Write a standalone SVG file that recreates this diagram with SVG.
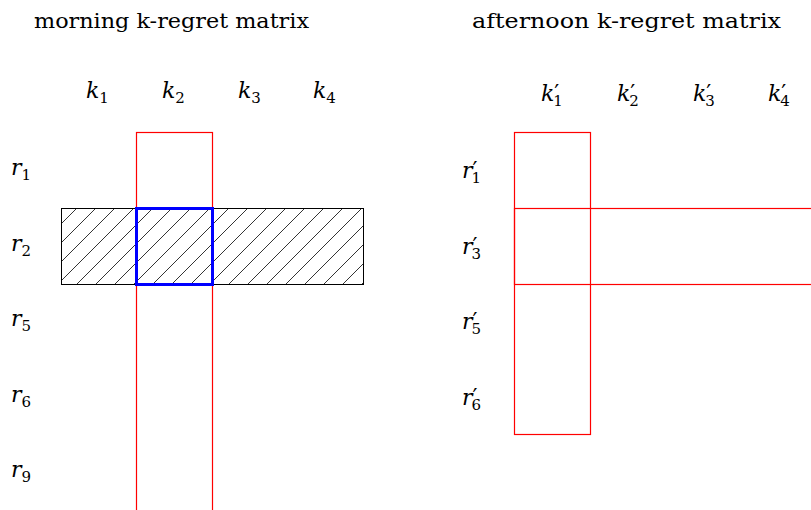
<svg xmlns="http://www.w3.org/2000/svg" width="811" height="510" viewBox="0 0 811 510">
<style>
.title{font-family:'DejaVu Serif',serif;font-size:21px;fill:#000}
.m{font-family:'DejaVu Serif',serif;font-style:italic;font-size:22px;fill:#000}
.s{font-style:normal;font-size:15px}
.p{font-style:normal;font-size:22px}
.red{fill:none;stroke:#ff0000;stroke-width:1.2}
.blue{fill:none;stroke:#0000ff;stroke-width:3}
</style>
<defs>
<pattern id="hatch" patternUnits="userSpaceOnUse" x="0" y="0" width="19" height="19">
<path d="M-1,1 L1,-1 M0,19 L19,0 M18,20 L20,18" stroke="#000" stroke-width="0.8"/>
</pattern>
</defs>
<g id="titles">
<text class="title" x="34" y="28" textLength="275" lengthAdjust="spacingAndGlyphs">morning k-regret matrix</text>
<text class="title" x="472" y="28" textLength="309" lengthAdjust="spacingAndGlyphs">afternoon k-regret matrix</text>
</g>
<g id="morning-labels">
<text class="m" x="86" y="98">k<tspan class="s" dy="5">1</tspan></text>
<text class="m" x="162" y="98">k<tspan class="s" dy="5">2</tspan></text>
<text class="m" x="238" y="98">k<tspan class="s" dy="5">3</tspan></text>
<text class="m" x="313" y="98">k<tspan class="s" dy="5">4</tspan></text>
<text class="m" x="11" y="175">r<tspan class="s" dy="5">1</tspan></text>
<text class="m" x="11" y="251">r<tspan class="s" dy="5">2</tspan></text>
<text class="m" x="11" y="326">r<tspan class="s" dy="5">5</tspan></text>
<text class="m" x="11" y="402">r<tspan class="s" dy="5">6</tspan></text>
<text class="m" x="11" y="477">r<tspan class="s" dy="5">9</tspan></text>
</g>
<g id="afternoon-labels">
<text class="m" x="541" y="101">k<tspan class="p" dy="-1">′</tspan><tspan class="s" dx="-6" dy="6">1</tspan></text>
<text class="m" x="617" y="101">k<tspan class="p" dy="-1">′</tspan><tspan class="s" dx="-6" dy="6">2</tspan></text>
<text class="m" x="693" y="101">k<tspan class="p" dy="-1">′</tspan><tspan class="s" dx="-6" dy="6">3</tspan></text>
<text class="m" x="768" y="101">k<tspan class="p" dy="-1">′</tspan><tspan class="s" dx="-6" dy="6">4</tspan></text>
<text class="m" x="462" y="178">r<tspan class="p" dy="-1">′</tspan><tspan class="s" dx="-6" dy="6">1</tspan></text>
<text class="m" x="462" y="254">r<tspan class="p" dy="-1">′</tspan><tspan class="s" dx="-6" dy="6">3</tspan></text>
<text class="m" x="462" y="329">r<tspan class="p" dy="-1">′</tspan><tspan class="s" dx="-6" dy="6">5</tspan></text>
<text class="m" x="462" y="405">r<tspan class="p" dy="-1">′</tspan><tspan class="s" dx="-6" dy="6">6</tspan></text>
</g>
<g id="morning-matrix">
<rect id="row-r2" x="61.5" y="208.5" width="302" height="76" fill="url(#hatch)" stroke="#000" stroke-width="1"/>
<rect id="col-k2" class="red" x="136.5" y="132.5" width="76" height="380"/>
<rect id="cell-r2-k2" class="blue" x="136.5" y="208.5" width="76" height="76"/>
</g>
<g id="afternoon-matrix">
<rect id="col-k1p" class="red" x="514.5" y="132.5" width="76" height="302"/>
<rect id="row-r3p" class="red" x="514.5" y="208.5" width="310" height="76"/>
</g>
</svg>
